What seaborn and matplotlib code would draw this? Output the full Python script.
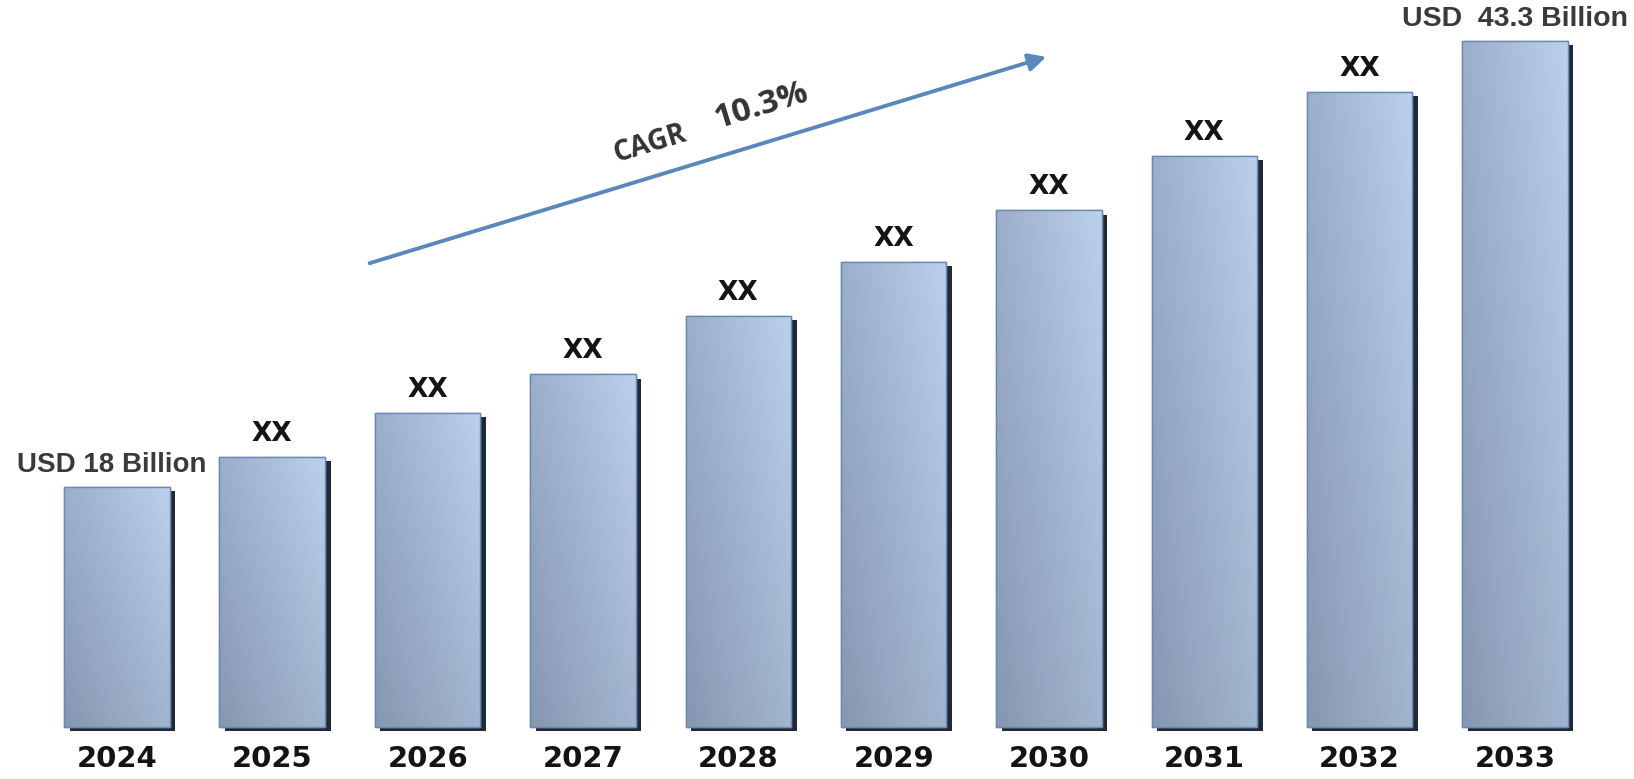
import numpy as np
import matplotlib
matplotlib.use("Agg")
import matplotlib.pyplot as plt
import matplotlib.patheffects as pe
import seaborn as sns

# Market size by year (USD billion)
years = ["2024", "2025", "2026", "2027", "2028", "2029", "2030", "2031", "2032", "2033"]
values = [18.0, 19.7, 22.2, 24.4, 27.7, 30.8, 33.7, 36.8, 40.4, 43.3]
value_labels = ["USD 18 Billion", "XX", "XX", "XX", "XX", "XX", "XX", "XX", "XX", "USD  43.3 Billion"]
cagr_word = "CAGR"
cagr_value = "10.3%"

# Value at which the visible bars begin
axis_floor = 4.4

sns.set_theme(style="white")
plt.rcParams["font.family"] = ["Open Sans", "DejaVu Sans"]

W, H = 1634, 779
fig = plt.figure(figsize=(W / 100, H / 100), dpi=100)
fig.patch.set_facecolor("white")
base_px = 52
ax = fig.add_axes([0, base_px / H, 1, (H - base_px) / H])
ax.set_facecolor("white")

sns.barplot(x=years, y=values, width=0.68, color="#a4b8d4", ax=ax,
            edgecolor="#6b89b6", linewidth=1.0)

ax.set_xlim(-0.753, 9.766)
ax.set_ylim(axis_floor, axis_floor + (H - base_px) / 17.63)

# Bilinear steel-blue gradient: left/right x bottom/top corners
c_lb = np.array([0x86, 0x97, 0xb1]) / 255
c_rb = np.array([0xa2, 0xb5, 0xcf]) / 255
c_lt = np.array([0x9b, 0xaf, 0xcc]) / 255
c_rt = np.array([0xbb, 0xd0, 0xea]) / 255
nx, ny = 64, 64
u = np.linspace(0, 1, nx)[None, :, None]
v = np.linspace(0, 1, ny)[:, None, None]  # 0 = top row
grad = (c_lt * (1 - u) * (1 - v) + c_rt * u * (1 - v)
        + c_lb * (1 - u) * v + c_rb * u * v)

shadow = pe.SimplePatchShadow(offset=(4, -3), shadow_rgbFace="#161d2b", alpha=0.95)
for patch in ax.patches:
    top = patch.get_y() + patch.get_height()
    patch.set_y(axis_floor)
    patch.set_height(top - axis_floor)
    patch.set_clip_on(False)
    patch.set_path_effects([shadow, pe.Normal()])
    x0 = patch.get_x()
    x1 = x0 + patch.get_width()
    img = ax.imshow(grad, extent=[x0, x1, axis_floor, top], aspect="auto",
                    zorder=patch.get_zorder() + 0.1, interpolation="bicubic")
    img.set_clip_path(patch)
    # thin outline over the gradient
    ax.add_patch(plt.Rectangle((x0, axis_floor), x1 - x0, top - axis_floor,
                               fill=False, edgecolor="#6b89b6", linewidth=1.0,
                               zorder=patch.get_zorder() + 0.2, clip_on=False))

# Value labels above bars
for i, (val, lab) in enumerate(zip(values, value_labels)):
    if lab == "XX":
        ax.annotate(lab, (i, val), xytext=(0, 23), textcoords="offset pixels",
                    ha="center", va="center", fontsize=19, fontweight="bold",
                    color="#141414", family=["DejaVu Sans"])
    else:
        ax.annotate(lab, (i, val),
                    xytext=(-5 if i == 0 else 0, 22),
                    textcoords="offset pixels", ha="center", va="center",
                    fontsize=20 if i == 0 else 20.5, fontweight="bold",
                    color="#3a3a3a", family=["Liberation Sans", "DejaVu Sans"])

# Year labels
ax.set_xlabel("")
ax.set_ylabel("")
ax.set_yticks([])
ax.tick_params(axis="x", length=0, pad=13)
for t in ax.get_xticklabels():
    t.set_fontsize(21)
    t.set_fontweight("bold")
    t.set_color("#141414")
    t.set_fontfamily(["DejaVu Sans"])
sns.despine(ax=ax, left=True, bottom=True)

# CAGR arrow and caption
fig.add_artist(matplotlib.patches.FancyArrowPatch(
    (367 / W, 1 - 264 / H), (1049 / W, 1 - 56 / H), transform=fig.transFigure,
    arrowstyle="-|>,head_length=7,head_width=3.5", color="#5b87bd", lw=2.8,
    mutation_scale=1.5))
angle = np.degrees(np.arctan2(264 - 56, 1049 - 367))
fig.text(650 / W, 1 - 144 / H, cagr_word, rotation=angle, rotation_mode="anchor",
         ha="center", va="center", fontsize=20, fontweight="bold", color="#333333")
fig.text(762 / W, 1 - 106 / H, cagr_value, rotation=angle, rotation_mode="anchor",
         ha="center", va="center", fontsize=24, fontweight="bold", color="#333333")

fig.savefig("out.png", dpi=100, facecolor="white")
